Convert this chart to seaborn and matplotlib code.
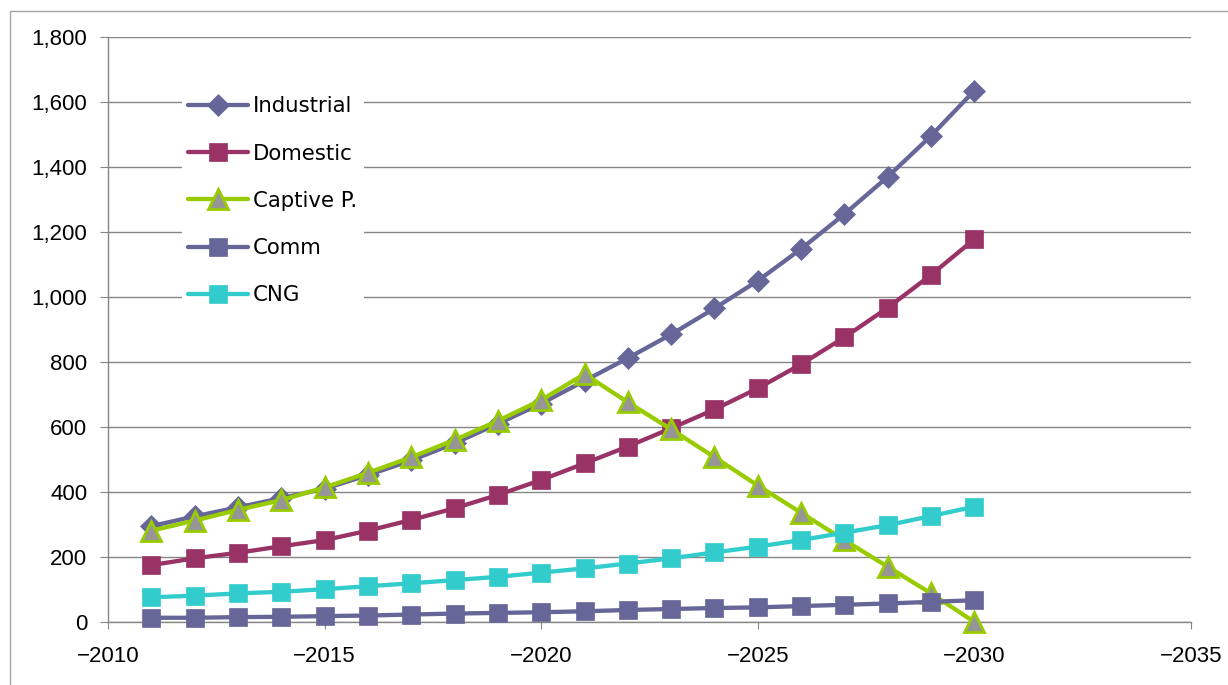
import matplotlib
matplotlib.use("Agg")
import matplotlib.pyplot as plt
from matplotlib.lines import Line2D
from matplotlib.ticker import StrMethodFormatter, FixedLocator, FixedFormatter
import seaborn as sns
import pandas as pd

# ---------------- data ----------------
years = [2011, 2012, 2013, 2014, 2015, 2016, 2017, 2018, 2019, 2020,
         2021, 2022, 2023, 2024, 2025, 2026, 2027, 2028, 2029, 2030]
industrial = [295, 325, 353, 381, 410, 452, 497, 550, 610, 672,
              742, 812, 885, 965, 1050, 1148, 1255, 1370, 1496, 1635]
domestic = [175, 196, 213, 233, 252, 281, 314, 350, 391, 437,
            488, 540, 596, 654, 719, 793, 876, 967, 1068, 1178]
captive = [281, 312, 345, 375, 414, 459, 507, 560, 619, 683,
           763, 676, 593, 507, 420, 336, 252, 170, 88, 0]
comm = [13, 13, 15, 16, 18, 20, 23, 26, 28, 30,
        33, 37, 40, 43, 45, 49, 53, 57, 62, 67]
cng = [76, 81, 88, 93, 101, 110, 119, 129, 139, 152,
       165, 180, 196, 214, 232, 252, 275, 298, 326, 355]
series_names = ["Industrial", "Domestic", "Captive P.", "Comm", "CNG"]
x_ticks = [2010, 2015, 2020, 2025, 2030, 2035]
x_tick_labels = ["\u22122010", "\u22122015", "\u22122020", "\u22122025", "\u22122030", "\u22122035"]
y_ticks = [0, 200, 400, 600, 800, 1000, 1200, 1400, 1600, 1800]

df = pd.DataFrame({"year": years, "Industrial": industrial, "Domestic": domestic,
                   "Captive P.": captive, "Comm": comm, "CNG": cng})

# ---------------- style ----------------
sns.set_theme(style="white")
plt.rcParams["font.family"] = ["Liberation Sans", "DejaVu Sans"]

W, H = 1228, 685
fig = plt.figure(figsize=(W / 100, H / 100), dpi=100)
fig.patch.set_facecolor("white")
L, R, T, B = 108, 1191, 37, 622
ax = fig.add_axes([L / W, 1 - B / H, (R - L) / W, (B - T) / H])

grid_c = "#868686"

styles = {
    "Industrial": dict(color="#666699", marker="D", markersize=11, markerfacecolor="#666699",
                       markeredgecolor="#666699", markeredgewidth=0.5, zorder=3),
    "Domestic": dict(color="#993366", marker="s", markersize=13.5, markerfacecolor="#993366",
                     markeredgecolor="#993366", markeredgewidth=0.5, zorder=4),
    "Captive P.": dict(color="#99CC00", marker="^", markersize=14, markerfacecolor="#969696",
                       markeredgecolor="#99CC00", markeredgewidth=2, zorder=5),
    "Comm": dict(color="#666699", marker="s", markersize=13.5, markerfacecolor="#666699",
                 markeredgecolor="#666699", markeredgewidth=0.5, zorder=7),
    "CNG": dict(color="#33CCCC", marker="s", markersize=13.5, markerfacecolor="#33CCCC",
                markeredgecolor="#33CCCC", markeredgewidth=0.5, zorder=6),
}

for name in series_names:
    st = styles[name]
    sns.lineplot(data=df, x="year", y=name, ax=ax, label=name, linewidth=3.1,
                 clip_on=False, **st)

ax.set_xlim(2010, 2035)
ax.set_ylim(0, 1800)
ax.xaxis.set_major_locator(FixedLocator(x_ticks))
ax.xaxis.set_major_formatter(FixedFormatter(x_tick_labels))
ax.yaxis.set_major_locator(FixedLocator(y_ticks))
ax.yaxis.set_major_formatter(StrMethodFormatter("{x:,.0f}"))
ax.set_xlabel("")
ax.set_ylabel("")

ax.grid(axis="y", color=grid_c, linewidth=1.0, zorder=0)
ax.grid(axis="x", visible=False)
ax.set_axisbelow(True)
for s in ["top", "right"]:
    ax.spines[s].set_visible(False)
for s in ["left", "bottom"]:
    ax.spines[s].set_color(grid_c)
    ax.spines[s].set_linewidth(1.0)

ax.tick_params(axis="x", direction="out", length=5, width=0.8, color=grid_c,
               pad=12, labelsize=16, labelcolor="black", bottom=True)
ax.tick_params(axis="y", direction="out", length=6, width=0.8, color=grid_c,
               pad=9, labelsize=16, labelcolor="black", left=True)

leg = ax.legend(loc="upper left", bbox_to_anchor=(182 / W, 1 - 90 / H),
                bbox_transform=fig.transFigure, borderaxespad=0, frameon=True,
                facecolor="white", edgecolor="none", framealpha=1,
                prop={"family": "DejaVu Sans", "size": 15.3},
                handlelength=2.8, handletextpad=0.25, labelspacing=1.28,
                borderpad=0.3, labelcolor="black")
leg.set_zorder(10)

# outer chart border
bc = "#A6A6A6"
fig.add_artist(Line2D([9.5 / W, 9.5 / W], [0, 1 - 10.5 / H], transform=fig.transFigure,
                      color=bc, linewidth=1.0))
fig.add_artist(Line2D([9.5 / W, 1], [1 - 10.5 / H, 1 - 10.5 / H], transform=fig.transFigure,
                      color=bc, linewidth=1.0))

fig.savefig("out.png", dpi=100, facecolor="white")
